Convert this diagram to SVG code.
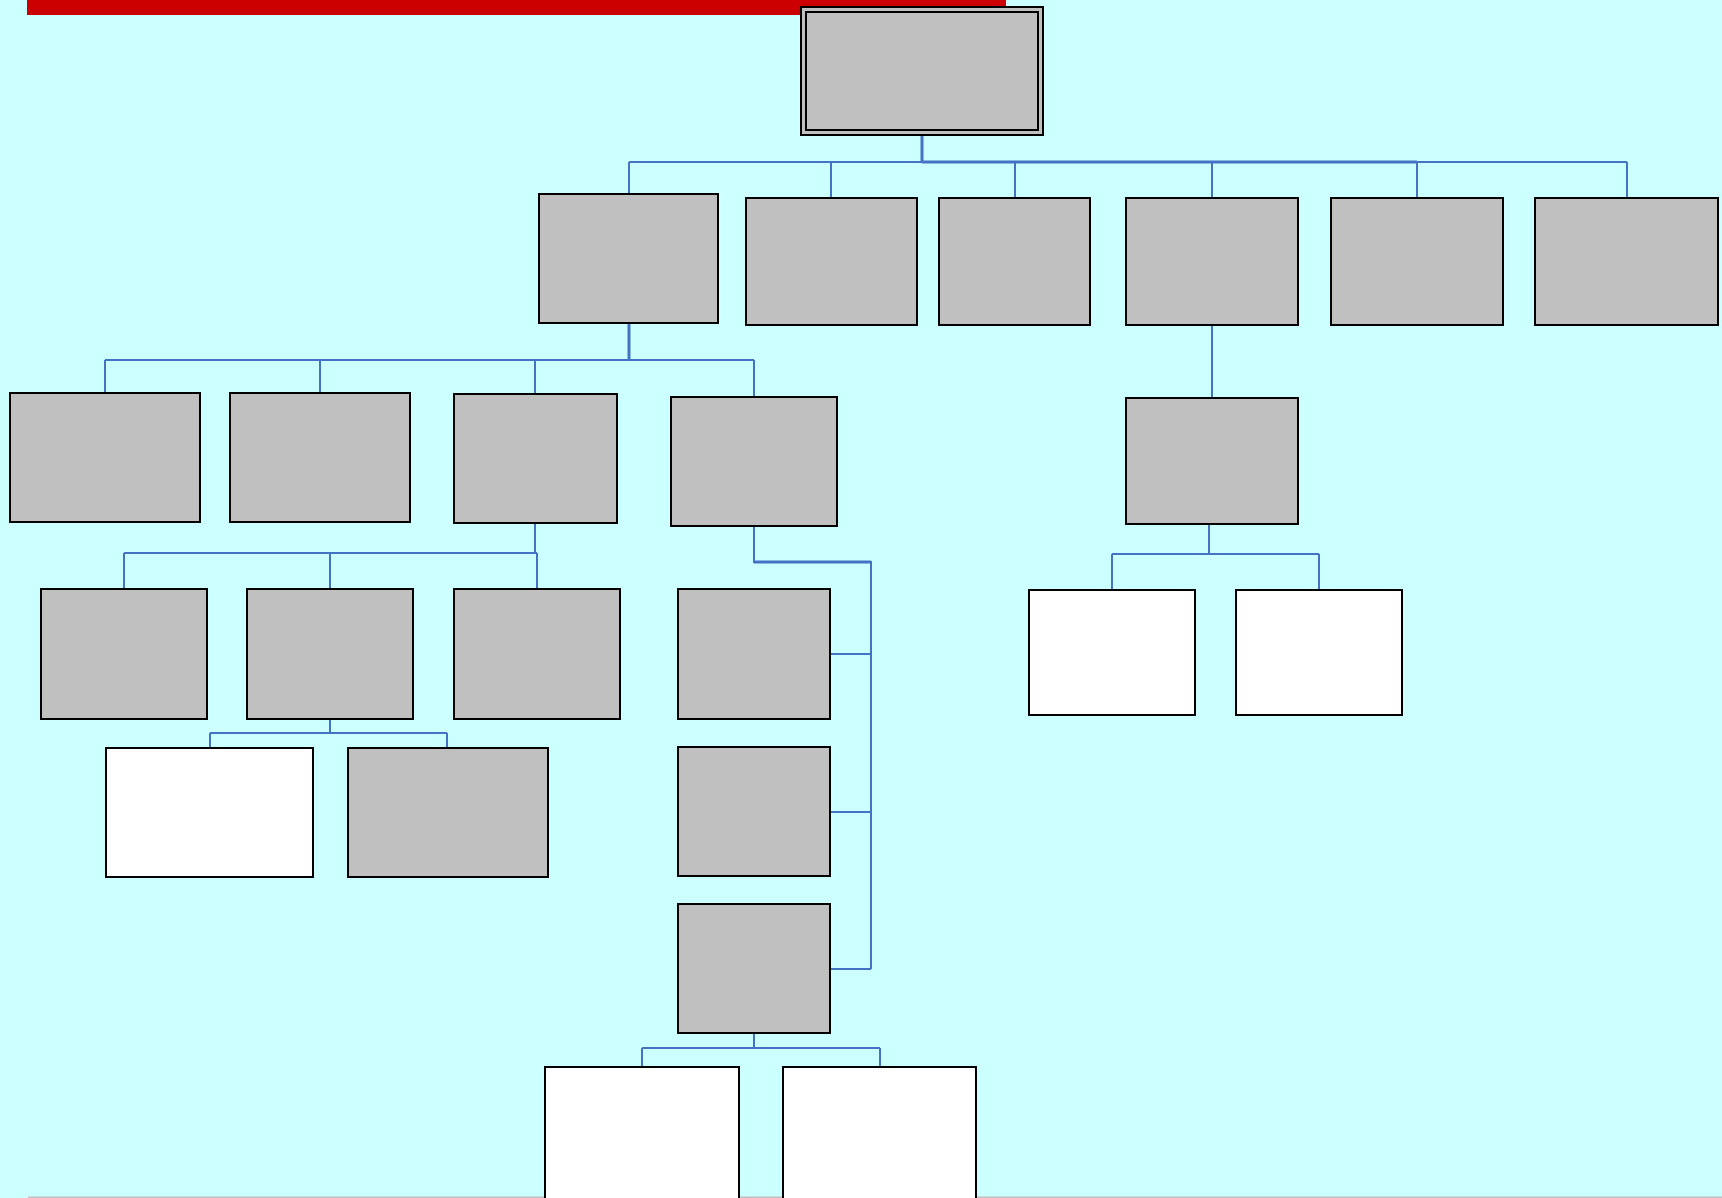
<svg xmlns="http://www.w3.org/2000/svg" width="1722" height="1198" viewBox="0 0 1722 1198">
<style>
.n{fill:#C0C0C0;stroke:#000;stroke-width:2}
.w{fill:#FFFFFF;stroke:#000;stroke-width:2}
.c{fill:none;stroke:#4472C4;stroke-width:2}
.t{fill:none;stroke:#4472C4;stroke-width:3}
</style>
<rect x="0" y="0" width="1722" height="1198" fill="#CCFFFF"/>
<rect x="27" y="0" width="979" height="15" fill="#CC0000"/>
<rect x="28" y="1196.5" width="1694" height="1.5" fill="#BFBFBF"/>
<g id="connectors">
<path class="c" d="M922,135V162M629,162H1627M629,162V194M831,162V198M1015,162V198M1212,162V198M1417,162V198M1627,162V198"/>
<path class="t" d="M922,135V162M922,162H1417"/>
<path class="c" d="M629,323V360M105,360H754M105,360V393M320,360V393M535,360V394M754,360V397"/>
<path class="t" d="M629,323V360"/>
<path class="c" d="M535,523V553M124,553H537M124,553V589M330,553V589M537,553V589"/>
<path class="c" d="M330,719V733M210,733H447M210,733V748M447,733V748"/>
<path class="c" d="M754,526V562H871V969M830,654H871M830,812H871M830,969H871"/>
<path class="t" d="M754,562H871"/>
<path class="c" d="M754,1033V1048M642,1048H880M642,1048V1067M880,1048V1067"/>
<path class="c" d="M1212,325V398"/>
<path class="c" d="M1209,524V554M1112,554H1319M1112,554V590M1319,554V590"/>
</g>
<g id="root"><rect class="n" x="801" y="7" width="242" height="128"/><rect class="n" x="806" y="12" width="232" height="118"/></g>
<g id="l1a"><rect class="n" x="539" y="194" width="179" height="129"/></g>
<g id="l1b"><rect class="n" x="746" y="198" width="171" height="127"/></g>
<g id="l1c"><rect class="n" x="939" y="198" width="151" height="127"/></g>
<g id="l1d"><rect class="n" x="1126" y="198" width="172" height="127"/></g>
<g id="l1e"><rect class="n" x="1331" y="198" width="172" height="127"/></g>
<g id="l1f"><rect class="n" x="1535" y="198" width="183" height="127"/></g>
<g id="b1"><rect class="n" x="10" y="393" width="190" height="129"/></g>
<g id="b2"><rect class="n" x="230" y="393" width="180" height="129"/></g>
<g id="b3"><rect class="n" x="454" y="394" width="163" height="129"/></g>
<g id="b4"><rect class="n" x="671" y="397" width="166" height="129"/></g>
<g id="g1"><rect class="n" x="1126" y="398" width="172" height="126"/></g>
<g id="c1"><rect class="n" x="41" y="589" width="166" height="130"/></g>
<g id="c2"><rect class="n" x="247" y="589" width="166" height="130"/></g>
<g id="c3"><rect class="n" x="454" y="589" width="166" height="130"/></g>
<g id="d1"><rect class="n" x="678" y="589" width="152" height="130"/></g>
<g id="h1"><rect class="w" x="1029" y="590" width="166" height="125"/></g>
<g id="h2"><rect class="w" x="1236" y="590" width="166" height="125"/></g>
<g id="e1"><rect class="w" x="106" y="748" width="207" height="129"/></g>
<g id="e2"><rect class="n" x="348" y="748" width="200" height="129"/></g>
<g id="d2"><rect class="n" x="678" y="747" width="152" height="129"/></g>
<g id="d3"><rect class="n" x="678" y="904" width="152" height="129"/></g>
<g id="f1"><rect class="w" x="545" y="1067" width="194" height="140"/></g>
<g id="f2"><rect class="w" x="783" y="1067" width="193" height="140"/></g>
</svg>
